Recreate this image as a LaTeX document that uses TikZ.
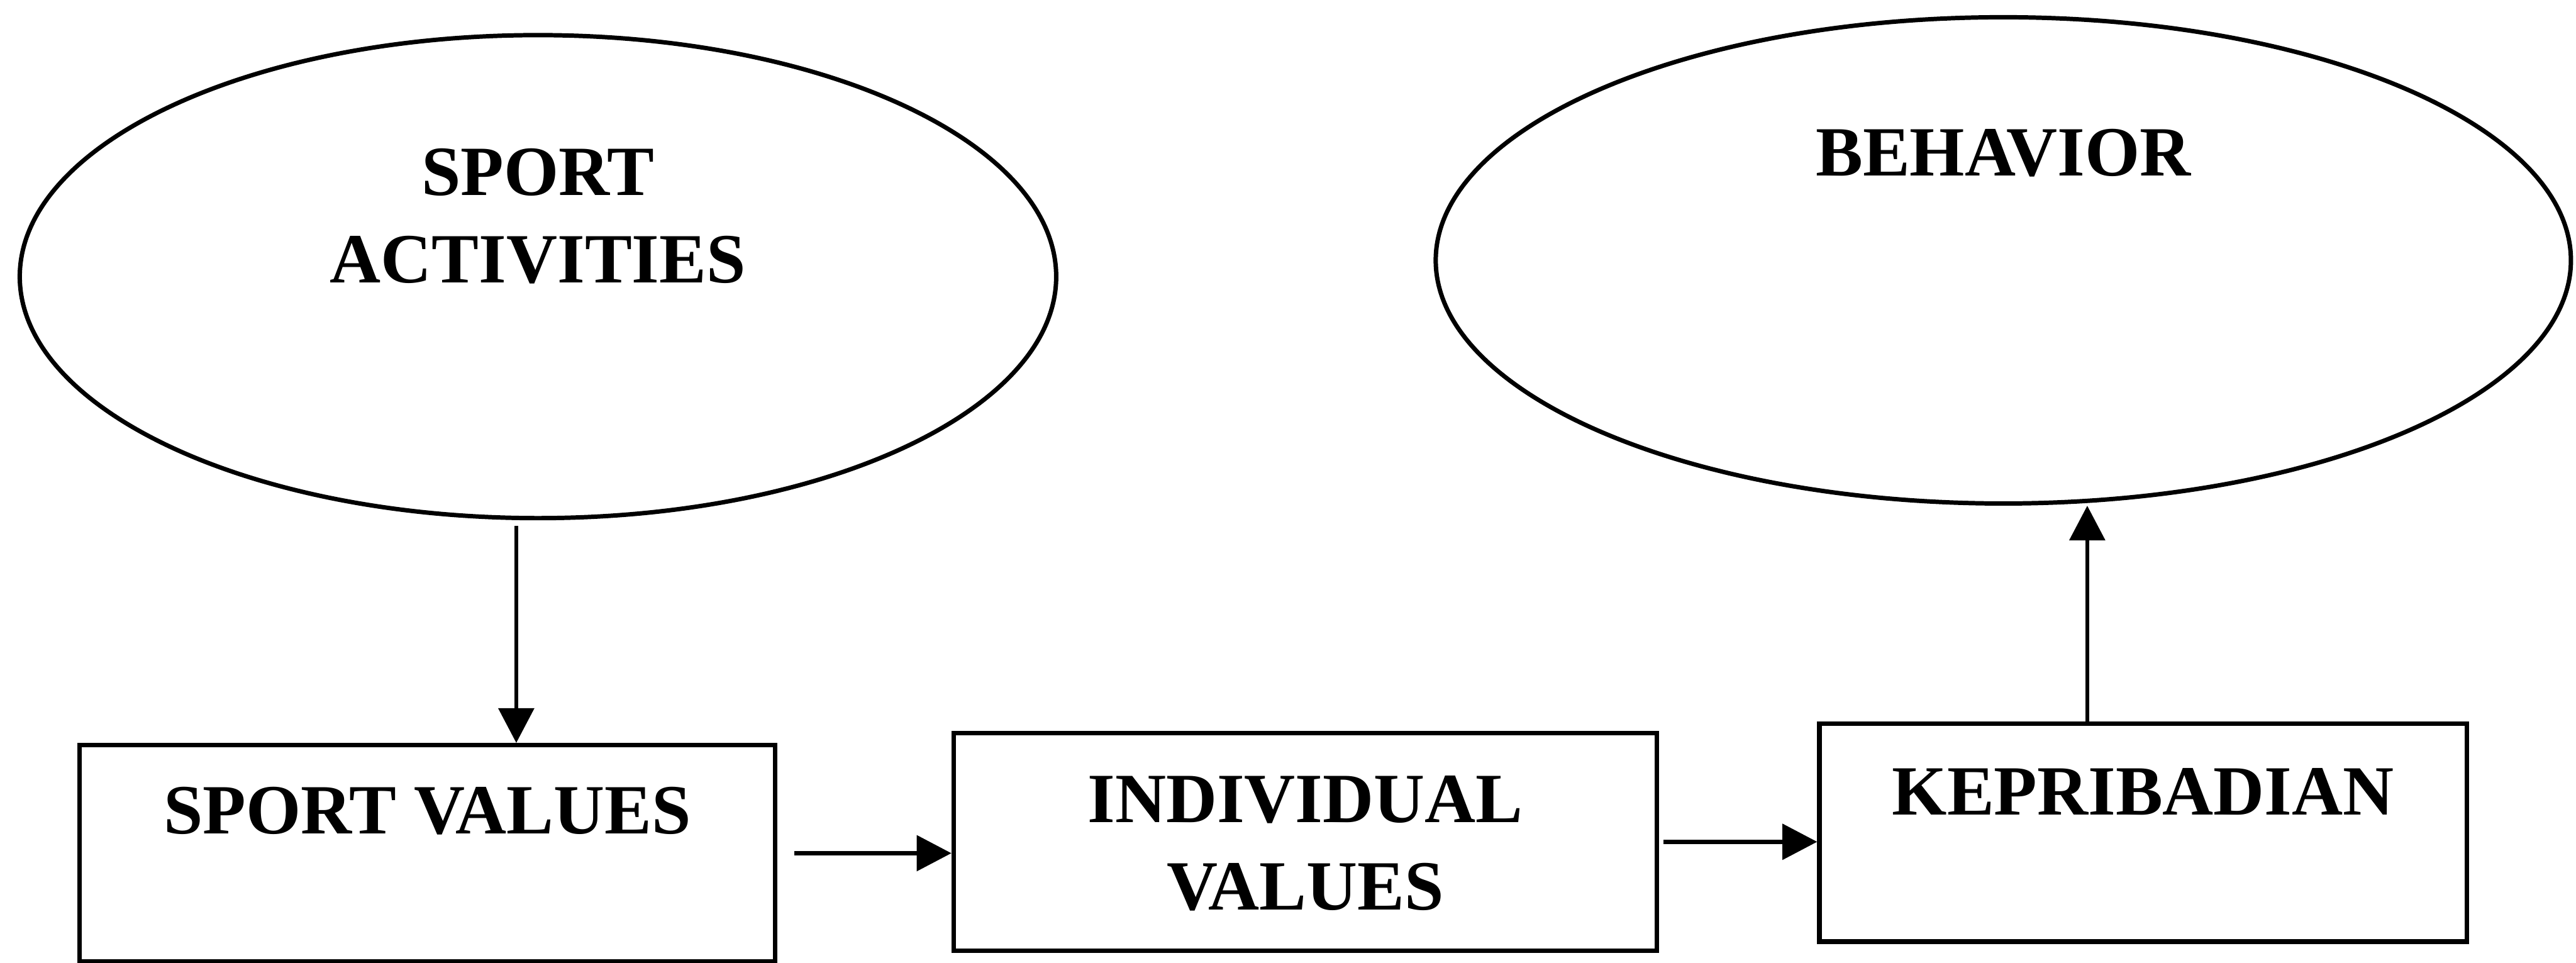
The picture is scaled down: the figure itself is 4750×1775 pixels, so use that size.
\documentclass[tikz,border=0pt]{standalone}
\usepackage{fontspec}
\setmainfont{Liberation Serif}
\usetikzlibrary{shapes.geometric, positioning, arrows.meta}
\tikzset{
>={Triangle[length=6.4mm, width=6.5mm]}, % solid triangle arrow heads
oval/.style={ellipse, draw=black, line width=2.3pt, inner sep=0pt}, % the two ellipses
valbox/.style={rectangle, draw=black, line width=2.4pt, inner sep=0pt}, % the three boxes
lbl/.style={font=\bfseries\fontsize{37}{46}\selectfont, align=center, inner sep=0pt}, % texts
link/.style={->, line width=2.2pt}, % connectors
}

\begin{document}
\begin{tikzpicture}[x=0.01cm, y=-0.01cm]
      \useasboundingbox (0,0) rectangle (4750,1775);

      \node[oval, minimum width=19.1cm, minimum height=8.9cm] (sportact) at (992,510) {};
      \node[oval, minimum width=20.92cm, minimum height=8.96cm] (behav) at (3694,480) {};
      \node[valbox, minimum width=12.82cm, minimum height=3.98cm] (sportval) at (788,1573) {};
      \node[valbox, right of=sportval, node distance=16.18cm, yshift=0.21cm,
            minimum width=12.96cm, minimum height=4.01cm] (indval) {};
      \node[valbox, right of=indval, node distance=15.44cm, yshift=0.17cm,
            minimum width=11.93cm, minimum height=4.02cm] (kepri) {};

      \node[lbl, below=2.12cm of sportact.north] (sportacttxt) {SPORT\\ACTIVITIES};
      \node[lbl, below=2.1cm of behav.north] (behavtxt) {BEHAVIOR};
      \node[lbl, below=0.81cm of sportval.north] (sportvaltxt) {SPORT VALUES};
      \node[lbl, below=0.82cm of indval.north] (indvaltxt) {INDIVIDUAL\\VALUES};
      \node[lbl, below=0.86cm of kepri.north] (kepritxt) {KEPRIBADIAN};

      \draw[link] ([xshift=-0.4cm, yshift=-0.1cm]sportact.south) -- ([xshift=-0.4cm]sportact.south |- sportval.north);
      \draw[link] ([xshift=0.31cm]sportval.east) -- (sportval.east -| indval.west);
      \draw[link] ([xshift=0.08cm]indval.east) -- (indval.east -| kepri.west);
      \draw[link] ([xshift=-1.03cm]kepri.north) -- ([xshift=-1.03cm]kepri.north |- behav.south);
    \end{tikzpicture}
\end{document}
